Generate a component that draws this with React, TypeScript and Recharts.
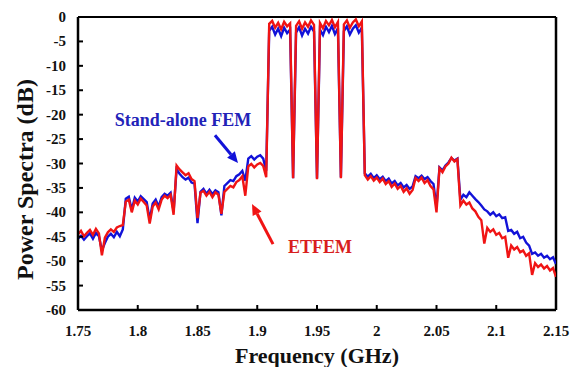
import React from "react";
import { LineChart, Line, XAxis, YAxis, ReferenceLine, ReferenceDot } from "recharts";

// sample grid of the spectrum analyser trace (GHz)
const FREQ_START = 1.75;
const FREQ_STEP = 0.0025;

// ETFEM trace, dB (one row = 0.02 GHz)
const etfem = [
  -44.5, -43.8, -44.9, -44.2, -43.6, -44.6, -43.4, -44.3,
  -48.8, -45.2, -44.1, -43.5, -44.0, -43.1, -42.8, -42.6,
  -37.8, -37.4, -40.0, -37.6, -38.4, -37.2, -37.9, -38.6,
  -42.3, -38.8, -38.0, -39.4, -37.4, -36.6, -37.1, -36.4,
  -40.5, -30.4, -31.2, -31.8, -32.4, -32.0, -33.2, -33.6,
  -41.2, -36.0, -35.6, -36.6, -35.8, -36.9, -35.9, -36.4,
  -40.3, -35.8, -35.2, -34.6, -34.9, -33.8, -33.4, -32.6,
  -36.6, -30.6, -30.1, -30.8, -30.2, -29.9, -30.5, -32.8,
  -1.4, -0.8, -2.2, -1.2, -2.5, -1.0, -1.9, -1.3,
  -33.0, -1.8, -0.9, -2.4, -1.1, -2.0, -0.7, -1.6,
  -33.2, -1.2, -2.3, -0.8, -1.7, -0.6, -2.1, -1.0,
  -33.0, -1.5, -0.7, -2.2, -1.1, -0.5, -1.9, -0.9,
  -32.4, -33.3, -32.6, -33.5, -32.9, -33.8, -33.1, -34.2,
  -33.6, -34.8, -34.1, -35.2, -34.6, -35.8, -35.1, -36.2,
  -35.4, -33.0, -33.6, -32.9, -34.0, -33.4, -34.6, -35.3,
  -40.0, -31.0, -31.8, -30.6, -30.0, -28.8, -29.6, -29.1,
  -38.6, -37.6, -38.4, -38.0, -39.2, -39.8, -40.9, -41.6,
  -46.4, -43.2, -44.0, -43.5, -44.6, -44.2, -45.3, -45.0,
  -49.3, -46.8, -47.6, -47.1, -48.2, -47.8, -48.9, -48.4,
  -52.8, -50.4, -51.2, -50.7, -51.5, -51.0, -51.9, -51.4,
  -53.2,
];

// stand-alone FEM trace, dB
const standAlone = [
  -45.4, -44.8, -45.6, -44.9, -44.3, -45.4, -44.2, -44.9,
  -47.8, -46.3, -45.0, -44.4, -45.1, -44.0, -44.9, -43.5,
  -37.2, -36.8, -39.5, -37.0, -37.8, -36.7, -37.3, -37.9,
  -41.5, -38.2, -37.4, -38.8, -36.9, -36.2, -36.6, -36.0,
  -39.8, -31.2, -32.1, -32.8, -33.3, -32.9, -33.9, -34.1,
  -42.2, -35.8, -35.2, -36.2, -35.4, -36.3, -35.5, -35.9,
  -40.6, -34.6, -34.0, -33.4, -33.6, -32.6, -32.2, -31.5,
  -33.5, -29.0, -28.5, -29.2, -28.6, -28.3, -29.0, -31.5,
  -2.8, -2.0, -3.6, -2.4, -3.9, -2.2, -3.3, -2.6,
  -33.0, -3.2, -2.1, -3.8, -2.4, -3.4, -2.0, -3.0,
  -33.0, -2.6, -3.7, -2.0, -3.1, -1.8, -3.5, -2.3,
  -32.8, -2.9, -1.9, -3.6, -2.4, -1.7, -3.2, -2.2,
  -32.0, -32.7, -32.1, -33.0, -32.4, -33.2, -32.7, -33.6,
  -33.1, -34.1, -33.6, -34.5, -34.0, -34.9, -34.4, -35.2,
  -34.7, -32.6, -33.0, -32.5, -33.2, -32.8, -33.6, -34.2,
  -39.0, -30.8, -31.4, -30.4, -29.8, -28.9, -29.4, -29.0,
  -37.4, -36.4, -36.9, -35.9, -36.6, -37.3, -37.9, -38.6,
  -39.4, -39.8, -40.5, -40.0, -40.8, -40.4, -41.2, -41.0,
  -43.8, -43.6, -44.4, -44.0, -45.3, -45.0, -46.2, -46.8,
  -48.5, -48.2, -48.9, -48.5, -49.3, -48.9, -49.6, -49.2,
  -50.6,
];

const xTicks = [1.75, 1.8, 1.85, 1.9, 1.95, 2, 2.05, 2.1, 2.15];
const yTicks = [0, -5, -10, -15, -20, -25, -30, -35, -40, -45, -50, -55, -60];

const data = etfem.map((v, i) => ({
  f: Number((FREQ_START + i * FREQ_STEP).toFixed(4)),
  etfem: v,
  standAlone: standAlone[i],
}));

const FONT = "'Liberation Serif', 'Times New Roman', serif";
const BLUE = "#1212d8";
const RED = "#f01414";

const XTick = (p: any) => (
  <g>
    <line x1={p.x} x2={p.x} y1={p.y} y2={p.y - 5} stroke="#000" strokeWidth={2} />
    <text x={p.x} y={p.y + 26} textAnchor="middle" fontFamily={FONT} fontWeight="bold" fontSize={15} fill="#111">
      {p.payload.value}
    </text>
  </g>
);

const YTick = (p: any) => (
  <g>
    <line x1={p.x} x2={p.x + 5} y1={p.y} y2={p.y} stroke="#000" strokeWidth={2} />
    <text x={p.x - 12} y={p.y + 5} textAnchor="end" fontFamily={FONT} fontWeight="bold" fontSize={15} fill="#111">
      {p.payload.value}
    </text>
  </g>
);

const arrow = (color: string) => (p: any) => {
  const { x1, y1, x2, y2 } = p;
  const dx = x2 - x1;
  const dy = y2 - y1;
  const len = Math.hypot(dx, dy) || 1;
  const ux = dx / len;
  const uy = dy / len;
  const bx = x2 - ux * 11;
  const by = y2 - uy * 11;
  return (
    <g>
      <line x1={x1} y1={y1} x2={bx} y2={by} stroke={color} strokeWidth={3} />
      <polygon
        points={`${x2},${y2} ${bx - uy * 5},${by + ux * 5} ${bx + uy * 5},${by - ux * 5}`}
        fill={color}
      />
    </g>
  );
};

const note = (text: string, color: string) => (p: any) => (
  <text x={p.cx} y={p.cy} textAnchor="middle" dominantBaseline="central" fontFamily={FONT} fontWeight="bold" fontSize={18} fill={color}>
    {text}
  </text>
);

export default function App() {
  return (
    <div style={{ position: "absolute", left: 0, top: 0, background: "#fff" }}>
      <LineChart width={582} height={367} data={data} margin={{ top: 17, right: 26, left: 0, bottom: 0 }}>
        <XAxis
          dataKey="f"
          type="number"
          domain={[1.75, 2.15]}
          ticks={xTicks}
          interval={0}
          height={57}
          tickSize={0}
          tickMargin={0}
          tickLine={false}
          axisLine={{ stroke: "#000", strokeWidth: 2.5 }}
          tick={XTick}
          allowDataOverflow
          label={(p: any) => (
            <text
              x={p.viewBox.x + p.viewBox.width / 2}
              y={p.viewBox.y + 53}
              textAnchor="middle"
              fontFamily={FONT}
              fontWeight="bold"
              fontSize={22}
              fill="#111"
            >
              Frequency (GHz)
            </text>
          )}
        />
        <YAxis
          type="number"
          domain={[-60, 0]}
          ticks={yTicks}
          interval={0}
          width={78}
          tickSize={0}
          tickMargin={0}
          tickLine={false}
          axisLine={{ stroke: "#000", strokeWidth: 2.5 }}
          tick={YTick}
          allowDataOverflow
          label={(p: any) => {
            const cx = p.viewBox.x + 25;
            const cy = p.viewBox.y + p.viewBox.height / 2 + 16;
            return (
              <text
                x={cx}
                y={cy}
                transform={`rotate(-90 ${cx} ${cy})`}
                textAnchor="middle"
                dominantBaseline="central"
                fontFamily={FONT}
                fontWeight="bold"
                fontSize={24}
                fill="#111"
              >
                Power Spectra (dB)
              </text>
            );
          }}
        />

        {/* frame */}
        <ReferenceLine y={0} stroke="#000" strokeWidth={2} />
        <ReferenceLine x={2.15} stroke="#000" strokeWidth={2.5} />

        <Line type="linear" dataKey="standAlone" stroke={BLUE} strokeWidth={2.4} dot={false} isAnimationActive={false} />
        <Line type="linear" dataKey="etfem" stroke={RED} strokeWidth={2.4} dot={false} isAnimationActive={false} />

        <ReferenceLine segment={[{ x: 1.8646, y: -24.2 }, { x: 1.8839, y: -29.9 }]} shape={arrow(BLUE)} />
        <ReferenceLine segment={[{ x: 1.9132, y: -46.5 }, { x: 1.8956, y: -38.3 }]} shape={arrow(RED)} />
        <ReferenceDot x={1.8379} y={-21.1} r={0} shape={note("Stand-alone FEM", "#2222b8")} />
        <ReferenceDot x={1.9525} y={-47.1} r={0} shape={note("ETFEM", "#d81e1e")} />
      </LineChart>
    </div>
  );
}
